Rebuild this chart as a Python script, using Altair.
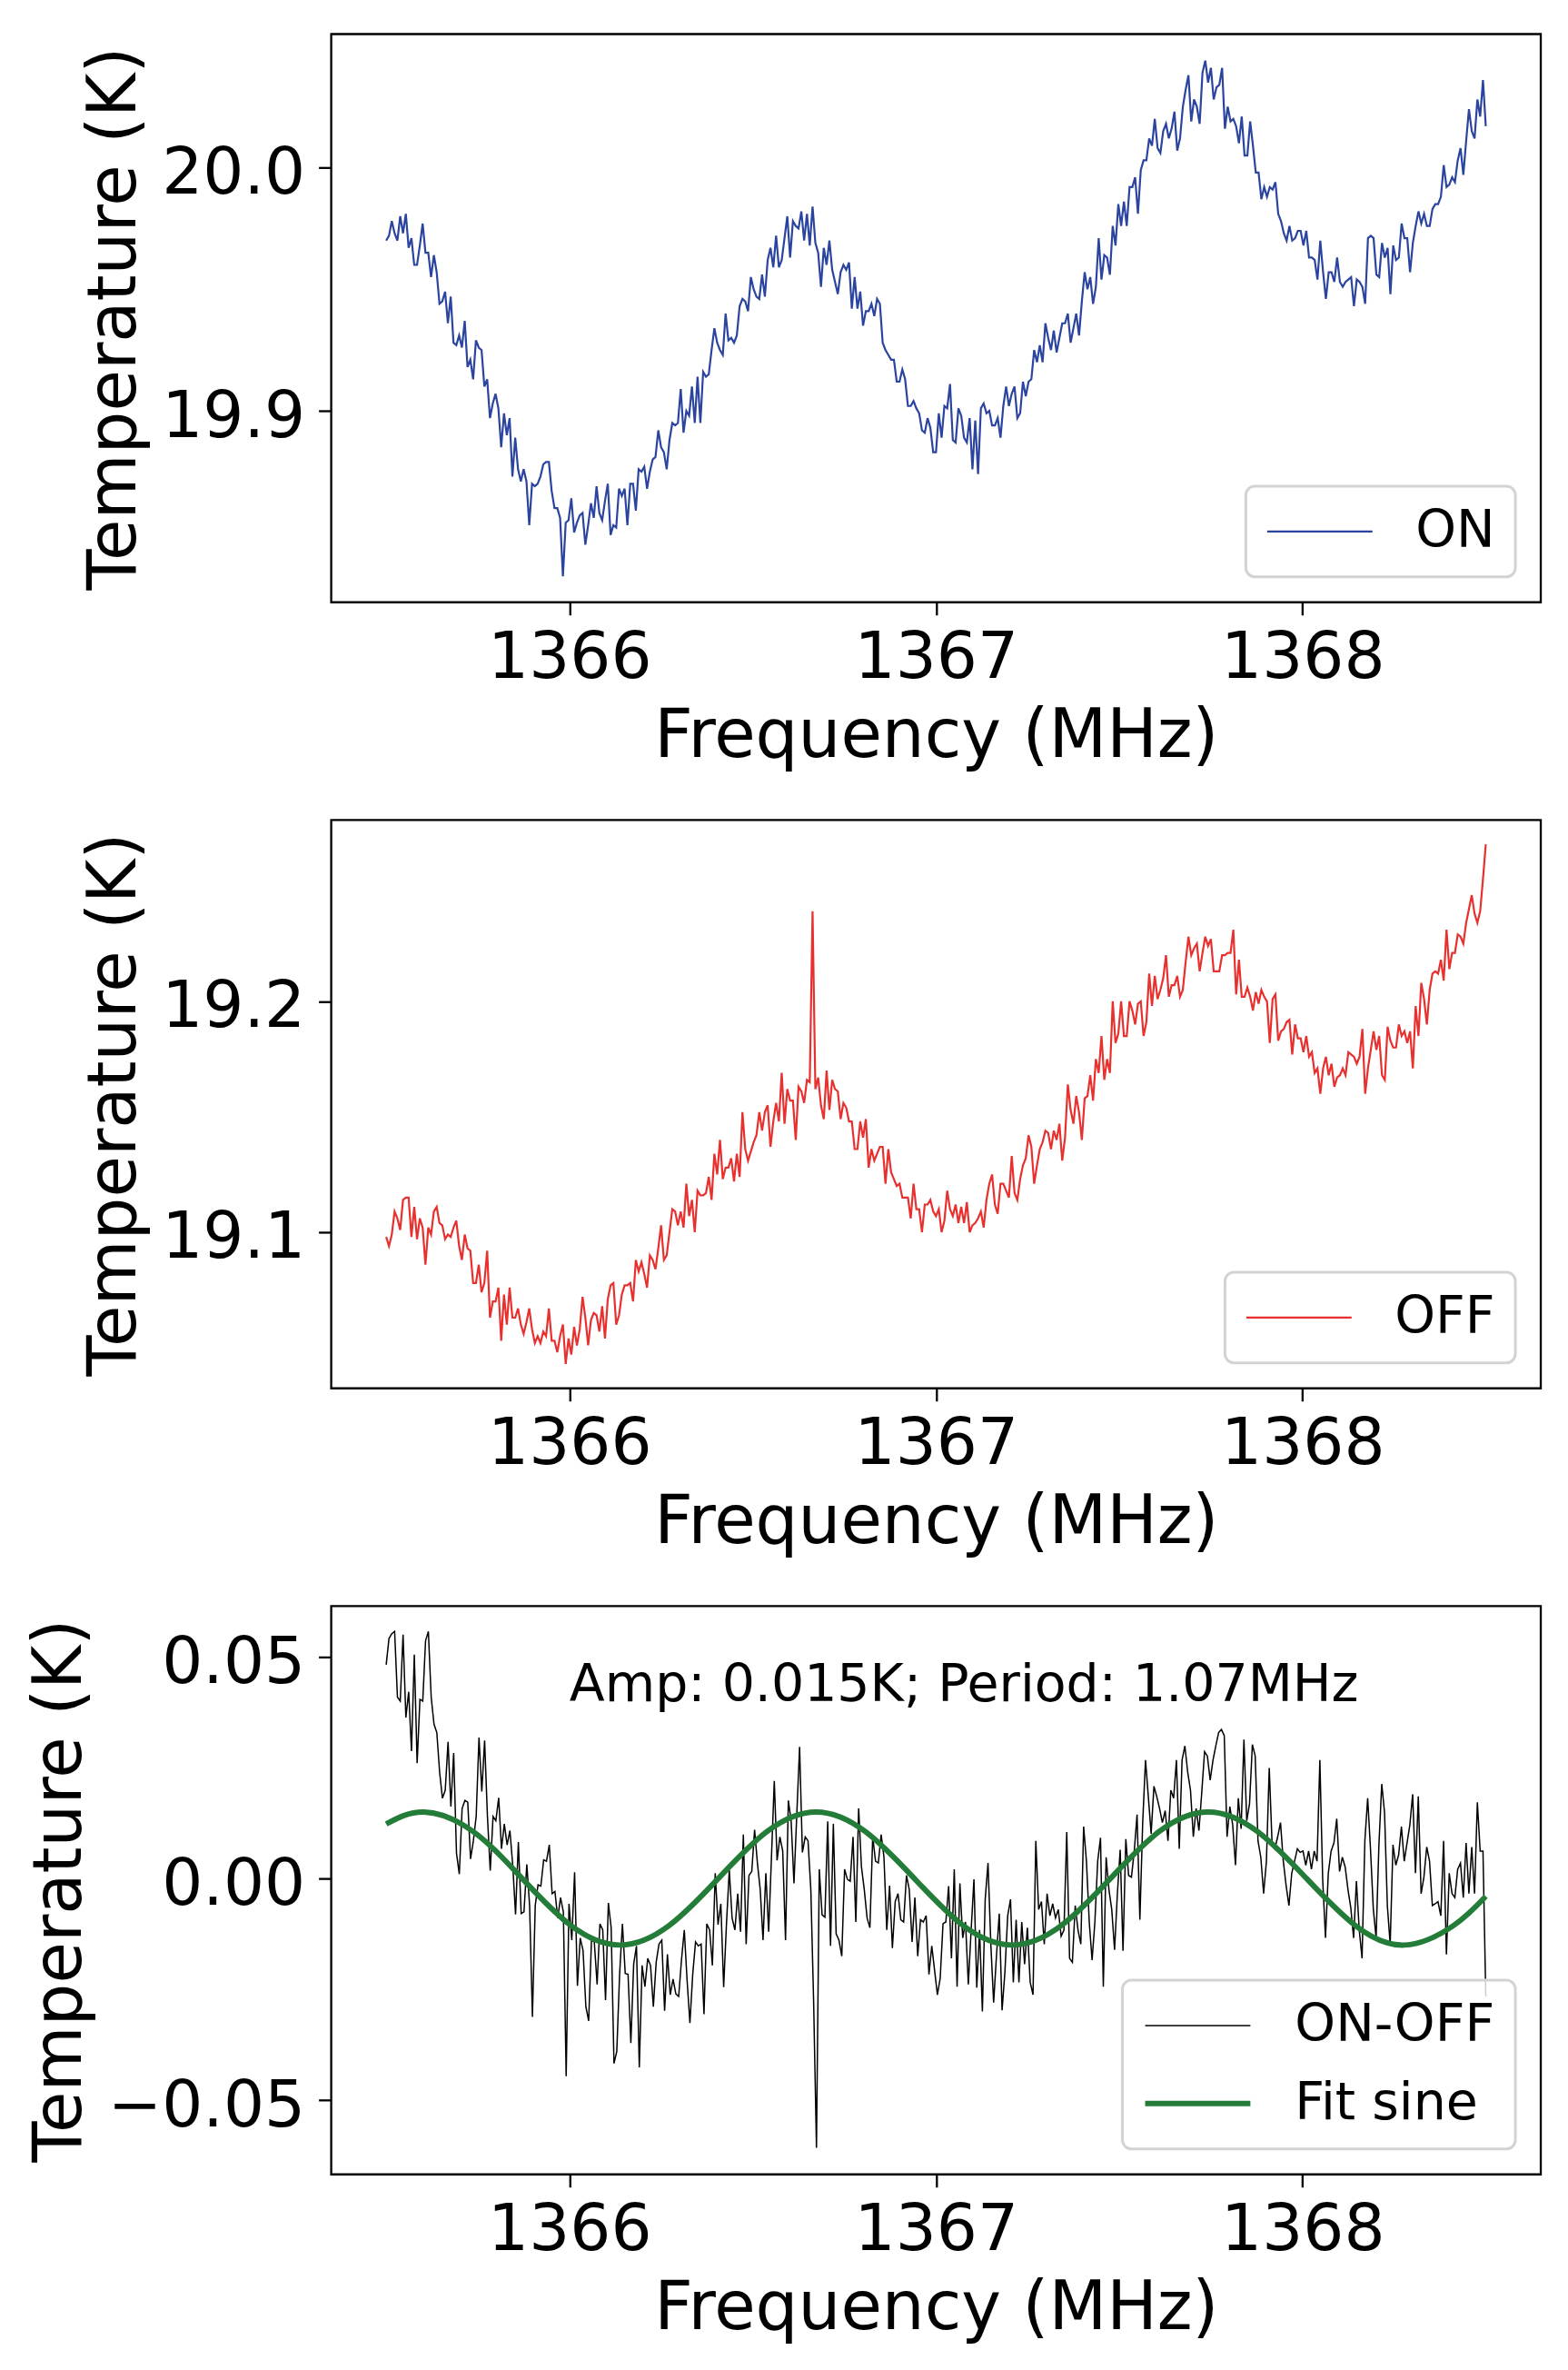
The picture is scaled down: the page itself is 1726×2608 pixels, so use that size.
import altair as alt
import numpy as np
import pandas as pd

# ---------------- data ----------------
FREQ_START = 1365.5
FREQ_STOP = 1368.5

ON_TEMP = [
    19.970, 19.972, 19.978, 19.973, 19.970, 19.980, 19.973, 19.981, 19.967, 19.971,
    19.960, 19.960, 19.968, 19.977, 19.965, 19.965, 19.955, 19.964, 19.957, 19.944,
    19.945, 19.949, 19.936, 19.947, 19.928, 19.927, 19.931, 19.926, 19.937, 19.918,
    19.921, 19.913, 19.929, 19.926, 19.925, 19.910, 19.913, 19.897, 19.903, 19.907,
    19.901, 19.885, 19.899, 19.890, 19.897, 19.873, 19.889, 19.876, 19.871, 19.876,
    19.871, 19.853, 19.870, 19.869, 19.870, 19.873, 19.878, 19.879, 19.879, 19.867,
    19.860, 19.860, 19.856, 19.832, 19.854, 19.855, 19.864, 19.850, 19.854, 19.857,
    19.858, 19.845, 19.853, 19.862, 19.856, 19.869, 19.858, 19.855, 19.863, 19.870,
    19.849, 19.853, 19.852, 19.868, 19.865, 19.868, 19.853, 19.870, 19.870, 19.859,
    19.876, 19.875, 19.877, 19.868, 19.875, 19.880, 19.881, 19.892, 19.885, 19.883,
    19.876, 19.888, 19.895, 19.894, 19.895, 19.909, 19.891, 19.900, 19.898, 19.910,
    19.895, 19.914, 19.895, 19.916, 19.914, 19.915, 19.925, 19.934, 19.928, 19.925,
    19.923, 19.940, 19.929, 19.930, 19.928, 19.931, 19.943, 19.946, 19.945, 19.941,
    19.955, 19.950, 19.947, 19.946, 19.956, 19.947, 19.962, 19.967, 19.959, 19.972,
    19.959, 19.962, 19.971, 19.980, 19.963, 19.978, 19.976, 19.975, 19.982, 19.970,
    19.981, 19.968, 19.984, 19.969, 19.965, 19.951, 19.967, 19.960, 19.970, 19.958,
    19.953, 19.948, 19.957, 19.960, 19.958, 19.961, 19.942, 19.955, 19.942, 19.949,
    19.935, 19.941, 19.941, 19.944, 19.939, 19.946, 19.944, 19.928, 19.925, 19.923,
    19.921, 19.921, 19.912, 19.912, 19.917, 19.913, 19.902, 19.902, 19.904, 19.901,
    19.899, 19.892, 19.891, 19.897, 19.893, 19.883, 19.883, 19.899, 19.889, 19.902,
    19.901, 19.911, 19.888,
    19.887, 19.901, 19.898, 19.889, 19.887, 19.897, 19.876, 19.896, 19.874, 19.901,
    19.903, 19.899, 19.900, 19.894, 19.894, 19.897, 19.889, 19.902, 19.910, 19.902,
    19.907, 19.910, 19.897, 19.899, 19.912, 19.906, 19.912, 19.913, 19.925, 19.920,
    19.927, 19.920, 19.936, 19.930, 19.925, 19.933, 19.924, 19.930, 19.936, 19.936,
    19.940, 19.928, 19.934, 19.940, 19.931, 19.945, 19.957, 19.950, 19.955, 19.944,
    19.951, 19.971, 19.954, 19.964, 19.963, 19.956, 19.976, 19.968, 19.985, 19.976,
    19.986, 19.976, 19.992, 19.992, 19.996, 19.981, 19.999, 20.003, 20.003, 20.012,
    20.009, 20.020, 20.008, 20.006, 20.015, 20.018, 20.012, 20.016, 20.023, 20.007,
    20.012, 20.025, 20.032, 20.038, 20.019, 20.028, 20.025, 20.018, 20.039, 20.044,
    20.035, 20.041, 20.028, 20.033, 20.034, 20.041, 20.016, 20.025, 20.019, 20.020,
    20.017, 20.010, 20.021, 20.005, 20.005, 20.019, 20.009, 19.998, 19.998, 19.987,
    19.992, 19.988, 19.992, 19.991, 19.994, 19.981, 19.978, 19.973, 19.970, 19.976,
    19.970, 19.971, 19.974, 19.974, 19.968, 19.974, 19.963, 19.963, 19.962, 19.954,
    19.970, 19.957, 19.946, 19.957, 19.957, 19.953, 19.963, 19.953, 19.951, 19.953,
    19.954, 19.955, 19.943, 19.954, 19.953, 19.951, 19.944, 19.971, 19.972, 19.971,
    19.956, 19.955, 19.969, 19.963, 19.967, 19.948, 19.968, 19.962, 19.963, 19.977,
    19.971, 19.971, 19.957, 19.969, 19.976, 19.982, 19.977, 19.981, 19.976, 19.976,
    19.983, 19.985, 19.985, 19.988, 20.001, 19.992, 19.993, 19.996, 19.994, 20.003,
    20.008, 19.997, 20.011, 20.024, 20.015, 20.012, 20.028, 20.021, 20.036, 20.017,
]

OFF_TEMP = [
    19.098, 19.094, 19.099, 19.109, 19.106, 19.101, 19.114, 19.115, 19.115, 19.098,
    19.111, 19.097, 19.106, 19.102, 19.086, 19.102, 19.099, 19.109, 19.111, 19.104,
    19.103, 19.097, 19.099, 19.098, 19.102, 19.105, 19.094, 19.088, 19.099, 19.093,
    19.092, 19.078, 19.078, 19.086, 19.074, 19.078, 19.092, 19.063, 19.070, 19.070,
    19.076, 19.053, 19.073, 19.060, 19.076, 19.063, 19.063, 19.067, 19.060, 19.056,
    19.061, 19.067, 19.058, 19.052, 19.055, 19.052, 19.057, 19.055, 19.067, 19.053,
    19.053, 19.048, 19.055, 19.060, 19.043, 19.054, 19.047, 19.059, 19.051, 19.058,
    19.072, 19.063, 19.051, 19.062, 19.065, 19.064, 19.057, 19.068, 19.054, 19.071,
    19.077, 19.078, 19.060, 19.064, 19.073, 19.077, 19.077, 19.078, 19.070, 19.088,
    19.083, 19.087, 19.082, 19.076, 19.090, 19.088, 19.084, 19.093, 19.103, 19.088,
    19.090, 19.100, 19.110, 19.109, 19.103, 19.109, 19.102, 19.121, 19.107, 19.114,
    19.100, 19.118, 19.116, 19.116, 19.117, 19.124, 19.114, 19.134, 19.125, 19.140,
    19.123, 19.128, 19.128, 19.132, 19.122, 19.134, 19.124, 19.152, 19.136, 19.131,
    19.135, 19.139, 19.142, 19.152, 19.144, 19.152, 19.155, 19.137, 19.148, 19.156,
    19.148, 19.169, 19.147, 19.162, 19.157, 19.157, 19.140, 19.163, 19.161, 19.156,
    19.166, 19.165, 19.239, 19.162, 19.167, 19.155, 19.149, 19.170, 19.153, 19.166,
    19.162, 19.161, 19.149, 19.156, 19.154, 19.148, 19.148, 19.136, 19.136, 19.148,
    19.141, 19.149, 19.128, 19.136, 19.131, 19.134, 19.137, 19.137, 19.121, 19.136,
    19.126, 19.123, 19.120, 19.121, 19.115, 19.115, 19.115, 19.106,
    19.121, 19.110, 19.110, 19.100, 19.112, 19.112, 19.114, 19.109, 19.107, 19.110,
    19.100, 19.105, 19.118, 19.110, 19.107, 19.112, 19.104, 19.111, 19.104, 19.113,
    19.100, 19.103, 19.104, 19.106, 19.109, 19.102, 19.114, 19.121, 19.125, 19.112,
    19.108, 19.121, 19.121, 19.118, 19.115, 19.133, 19.117, 19.114, 19.123, 19.129,
    19.132, 19.142, 19.137, 19.121, 19.129, 19.136, 19.139, 19.144, 19.143, 19.136,
    19.144, 19.140, 19.147, 19.131, 19.141, 19.164, 19.153, 19.147, 19.159, 19.152,
    19.140, 19.158, 19.159, 19.168, 19.157, 19.175, 19.169, 19.185, 19.166, 19.175,
    19.169, 19.200, 19.182, 19.186, 19.200, 19.185, 19.185, 19.200, 19.196, 19.190,
    19.199, 19.200, 19.185, 19.191, 19.212, 19.198, 19.211, 19.201, 19.205, 19.210,
    19.220, 19.202, 19.207, 19.207, 19.211, 19.202, 19.205, 19.217, 19.228, 19.220,
    19.223, 19.225, 19.213, 19.221, 19.228, 19.224, 19.227, 19.213, 19.213, 19.213,
    19.220, 19.220, 19.221, 19.221, 19.231, 19.203, 19.218, 19.202, 19.202, 19.206,
    19.202, 19.196, 19.204, 19.199, 19.205, 19.202, 19.200, 19.182, 19.201, 19.203,
    19.183, 19.187, 19.188, 19.191, 19.192, 19.177, 19.190, 19.184, 19.184, 19.178,
    19.185, 19.176, 19.178, 19.169, 19.171, 19.160, 19.171, 19.176, 19.168, 19.173,
    19.163, 19.167, 19.168, 19.171, 19.168, 19.178, 19.177, 19.176, 19.173, 19.176,
    19.188, 19.160, 19.171, 19.179, 19.187, 19.179, 19.185, 19.168, 19.166, 19.189,
    19.183, 19.180, 19.180, 19.190, 19.185, 19.187, 19.182, 19.187, 19.171, 19.198,
    19.185, 19.208, 19.201, 19.190, 19.205, 19.212, 19.213, 19.212, 19.218, 19.209,
    19.231, 19.214, 19.221, 19.221, 19.229, 19.228, 19.225, 19.234, 19.240, 19.246,
    19.238, 19.234, 19.239, 19.253, 19.268,
]

DIFF_TEMP = [
    0.0482, 0.0541, 0.0552, 0.0557, 0.0409, 0.0400, 0.0550, 0.0363, 0.0421, 0.0287,
    0.0505, 0.0260, 0.0404, 0.0400, 0.0536, 0.0557, 0.0409, 0.0348, 0.0329, 0.0240,
    0.0181, 0.0199, 0.0308, 0.0162, 0.0283, 0.0057, 0.0010, 0.0158, 0.0176, 0.0172,
    0.0044, 0.0085, 0.0140, 0.0318, 0.0196, 0.0311, 0.0140, 0.0018, 0.0140, 0.0130,
    0.0182, 0.0067, 0.0123, 0.0076, 0.0108, 0.0030, -0.0081, 0.0082, -0.0079, -0.0075,
    0.0032, -0.0061, -0.0312, -0.0061, -0.0014, -0.0017, 0.0042, 0.0039, 0.0076, -0.0034,
    -0.0029, -0.0089, -0.0043, -0.0075, -0.0446, -0.0057, -0.0139, 0.0014, -0.0242, -0.0134,
    -0.0162, -0.0289, -0.0321, -0.0139, -0.0143, -0.0239, -0.0102, -0.0116, -0.0274, -0.0055,
    -0.0111, -0.0417, -0.0390, -0.0216, -0.0102, -0.0214, -0.0216, -0.0371, -0.0193, -0.0152,
    -0.0426, -0.0196, -0.0244, -0.0180, -0.0196, -0.0289, -0.0189, -0.0148, -0.0139, -0.0298,
    -0.0171, -0.0262, -0.0227, -0.0260, -0.0266, -0.0184, -0.0116, -0.0230, -0.0326, -0.0216,
    -0.0143, -0.0152, -0.0148, -0.0306, -0.0102, -0.0116, -0.0196, 0.0012, -0.0104, -0.0057,
    -0.0245, -0.0102, 0.0019, -0.0089, -0.0116, -0.0034, -0.0120, 0.0099, -0.0148, 0.0007,
    0.0016, 0.0110, 0.0035, -0.0025, -0.0139, 0.0012, -0.0120, 0.0048, 0.0220, 0.0041,
    0.0094, 0.0062, -0.0139, 0.0176, 0.0130, -0.0011, 0.0144, 0.0297, 0.0059, 0.0094,
    0.0085, -0.0025, -0.0280, -0.0607, 0.0021, -0.0082, -0.0087, 0.0129, -0.0152, 0.0123,
    -0.0125, -0.0139, -0.0175, 0.0021, -0.0002, -0.0006, 0.0094, -0.0098, 0.0158, 0.0026,
    -0.0025, -0.0089, -0.0111, 0.0094, 0.0039, 0.0035, 0.0099, 0.0048, -0.0116, -0.0016,
    -0.0157, -0.0052, -0.0034, -0.0093, -0.0098, 0.0007, -0.0025, -0.0143, -0.0043, -0.0175,
    -0.0093, -0.0098, -0.0084, -0.0216, -0.0152, -0.0207, -0.0262,
    -0.0225, -0.0102, -0.0098, -0.0017, -0.0180, 0.0021, -0.0244, -0.0011, -0.0134, -0.0098,
    -0.0239, -0.0116, -0.0002, -0.0246, -0.0116, -0.0300, -0.0047, 0.0035, -0.0148, -0.0280,
    -0.0175, -0.0079, -0.0297, -0.0212, -0.0084, -0.0047, -0.0234, -0.0093, -0.0234, -0.0098,
    -0.0193, -0.0111, -0.0234, -0.0262, 0.0085, -0.0070, -0.0052, -0.0148, -0.0034, -0.0084,
    -0.0057, -0.0089, -0.0070, -0.0130, -0.0116, 0.0105, -0.0180, -0.0189, -0.0061, -0.0116,
    -0.0148, 0.0117, 0.0039, -0.0098, -0.0184, -0.0098, 0.0039, 0.0092, -0.0244, 0.0048,
    -0.0025, -0.0070, -0.0161, -0.0034, 0.0065, -0.0163, 0.0089, 0.0007, 0.0003, 0.0062,
    0.0144, -0.0093, 0.0126, 0.0267, 0.0185, 0.0101, 0.0208, 0.0185, 0.0158, 0.0126,
    0.0153, 0.0085, 0.0199, 0.0181, 0.0267, 0.0067, 0.0267, 0.0299, 0.0240, 0.0199,
    0.0094, 0.0158, 0.0108, 0.0194, 0.0286, 0.0276, 0.0222, 0.0267, 0.0299, 0.0329,
    0.0336, 0.0322, 0.0094, 0.0162, 0.0121, 0.0030, 0.0181, 0.0112, 0.0313, 0.0130,
    0.0169, 0.0302, 0.0276, 0.0085, 0.0048, -0.0034, 0.0039, 0.0249, 0.0080, 0.0067,
    0.0094, 0.0126, 0.0039, -0.0016, -0.0061, 0.0012, 0.0039, 0.0067, 0.0059, 0.0062,
    0.0030, 0.0062, 0.0021, 0.0062, 0.0039, 0.0267, -0.0002, -0.0134, 0.0012, 0.0062,
    0.0080, 0.0135, 0.0016, 0.0048, 0.0026, -0.0025, -0.0066, -0.0134, -0.0006, -0.0116,
    -0.0180, 0.0085, 0.0181, 0.0067, -0.0068, -0.0134, 0.0076, 0.0213, 0.0149, -0.0061,
    -0.0148, 0.0076, 0.0030, 0.0053, 0.0117, 0.0039, 0.0080, 0.0121, 0.0190, 0.0012,
    0.0185, -0.0034, 0.0003, 0.0071, 0.0039, -0.0061, -0.0057, -0.0052, -0.0084, 0.0085,
    -0.0171, 0.0012, -0.0034, -0.0043, 0.0021, 0.0035, -0.0043, 0.0080, -0.0034, 0.0071,
    -0.0034, 0.0172, 0.0062, 0.0062, -0.0266,
]

# fitted sine read at its peaks, troughs and in-between points
FIT_FREQ = [1365.500, 1365.603, 1365.737, 1365.871, 1366.004, 1366.138, 1366.272,
            1366.406, 1366.539, 1366.673, 1366.807, 1366.941, 1367.074, 1367.208,
            1367.342, 1367.476, 1367.609, 1367.743, 1367.877, 1368.011, 1368.144,
            1368.278, 1368.412, 1368.500]
FIT_TEMP = [0.0123, 0.0150, 0.0106, 0.0000, -0.0106, -0.0150, -0.0106,
            0.0000, 0.0106, 0.0150, 0.0106, 0.0000, -0.0106, -0.0150,
            -0.0106, 0.0000, 0.0106, 0.0150, 0.0106, 0.0000, -0.0106,
            -0.0150, -0.0106, -0.0040]

ANNOT_TEXT = ["Amp: 0.015K; Period: 1.07MHz"]
ANNOT_FREQ = [1366.0]
ANNOT_TEMP = [0.04]

X_TICKS = [1366, 1367, 1368]
ON_TICKS = [19.9, 20.0]
OFF_TICKS = [19.1, 19.2]
DIFF_TICKS = [-0.05, 0.0, 0.05]

X_DOMAIN = [1365.35, 1368.65]
ON_DOMAIN = [19.8213, 20.0549]
OFF_DOMAIN = [19.0324, 19.2785]
DIFF_DOMAIN = [-0.0667, 0.0614]

BOTTOM_SERIES = ["ON-OFF", "Fit sine"]
BOTTOM_WIDTHS = [1.5, 6.0]

# ---------------- styling ----------------
FONT = "DejaVu Sans"
ON_COLOR = "#2b44a0"
OFF_COLOR = "#e8302e"
DIFF_COLOR = "#000000"
FIT_COLOR = "#237d38"
W, H = 1333, 626


def spectrum(values, name):
    return pd.DataFrame({
        "freq": np.linspace(FREQ_START, FREQ_STOP, len(values)),
        "temp": values,
        "series": name,
    })


def x_enc():
    return alt.X(
        "freq:Q",
        scale=alt.Scale(domain=X_DOMAIN, nice=False, zero=False),
        axis=alt.Axis(values=X_TICKS, format="d", title="Frequency (MHz)",
                      labelPadding=13, labelFlush=False,
                      titleY=170, titleBaseline="alphabetic"),
    )


def y_enc(domain, ticks, fmt, title_x):
    return alt.Y(
        "temp:Q",
        scale=alt.Scale(domain=domain, nice=False, zero=False),
        axis=alt.Axis(values=ticks, format=fmt, title="Temperature (K)",
                      labelPadding=15, labelOffset=7,
                      titleX=title_x, titleY=H / 2, titleAngle=270,
                      titleBaseline="alphabetic", titleAlign="center"),
    )


def make_legend(stroke_w=2.2):
    return alt.Legend(
        title=None, orient="bottom-right", offset=28,
        symbolType="stroke", symbolSize=13456, symbolStrokeWidth=stroke_w,
        clipHeight=56,
        labelFont=FONT, labelFontSize=57, labelColor="black",
        labelOffset=46, labelLimit=600, padding=22, rowPadding=29,
        cornerRadius=10, strokeColor="#d3d3d3", fillColor="rgba(255,255,255,0.8)",
    )


on_df = spectrum(ON_TEMP, "ON")
off_df = spectrum(OFF_TEMP, "OFF")
diff_df = spectrum(DIFF_TEMP, "ON-OFF")
fit_df = pd.DataFrame({"freq": FIT_FREQ, "temp": FIT_TEMP, "series": "Fit sine"})
annot_df = pd.DataFrame({"freq": ANNOT_FREQ, "temp": ANNOT_TEMP, "label": ANNOT_TEXT})

top = alt.Chart(on_df).mark_line(strokeWidth=2.2).encode(
    x=x_enc(),
    y=y_enc(ON_DOMAIN, ON_TICKS, ".1f", -216),
    color=alt.Color("series:N", scale=alt.Scale(domain=["ON"], range=[ON_COLOR]),
                    legend=make_legend()),
).properties(width=W, height=H)

mid = alt.Chart(off_df).mark_line(strokeWidth=2.2).encode(
    x=x_enc(),
    y=y_enc(OFF_DOMAIN, OFF_TICKS, ".1f", -216),
    color=alt.Color("series:N", scale=alt.Scale(domain=["OFF"], range=[OFF_COLOR]),
                    legend=make_legend()),
).properties(width=W, height=H)

bottom_legend = make_legend()
bottom_color = alt.Color(
    "series:N",
    scale=alt.Scale(domain=BOTTOM_SERIES, range=[DIFF_COLOR, FIT_COLOR]),
    legend=bottom_legend,
)
bottom_width = alt.StrokeWidth(
    "series:N",
    scale=alt.Scale(domain=BOTTOM_SERIES, range=BOTTOM_WIDTHS, padding=0),
    legend=bottom_legend,
)

diff_line = alt.Chart(diff_df).mark_line().encode(
    x=x_enc(),
    y=y_enc(DIFF_DOMAIN, DIFF_TICKS, ".2f", -276),
    color=bottom_color,
    strokeWidth=bottom_width,
)
fit_line = alt.Chart(fit_df).mark_line(interpolate="natural").encode(
    x="freq:Q", y="temp:Q", color=bottom_color, strokeWidth=bottom_width,
)
annot = alt.Chart(annot_df).mark_text(
    align="left", baseline="alphabetic", font=FONT, fontSize=57, color="black",
).encode(x="freq:Q", y="temp:Q", text="label:N")

bot = alt.layer(diff_line, fit_line, annot).properties(width=W, height=H)

chart = (
    alt.vconcat(top, mid, bot, spacing=240, bounds="flush")
    .resolve_scale(color="independent", strokeWidth="independent")
    .properties(padding={"left": 20, "top": 26, "right": 20, "bottom": 20})
    .configure_view(stroke="black", strokeWidth=2.3)
    .configure_axis(
        labelFont=FONT, labelFontSize=71, labelColor="black", labelLimit=500,
        titleFont=FONT, titleFontSize=74, titleFontWeight="normal", titleColor="black",
        tickColor="black", tickWidth=2.3, tickSize=14,
        domain=False, grid=False,
    )
    .configure_legend(strokeWidth=3)
)

chart.save("out.html", embed_options={"renderer": "svg", "actions": False})
